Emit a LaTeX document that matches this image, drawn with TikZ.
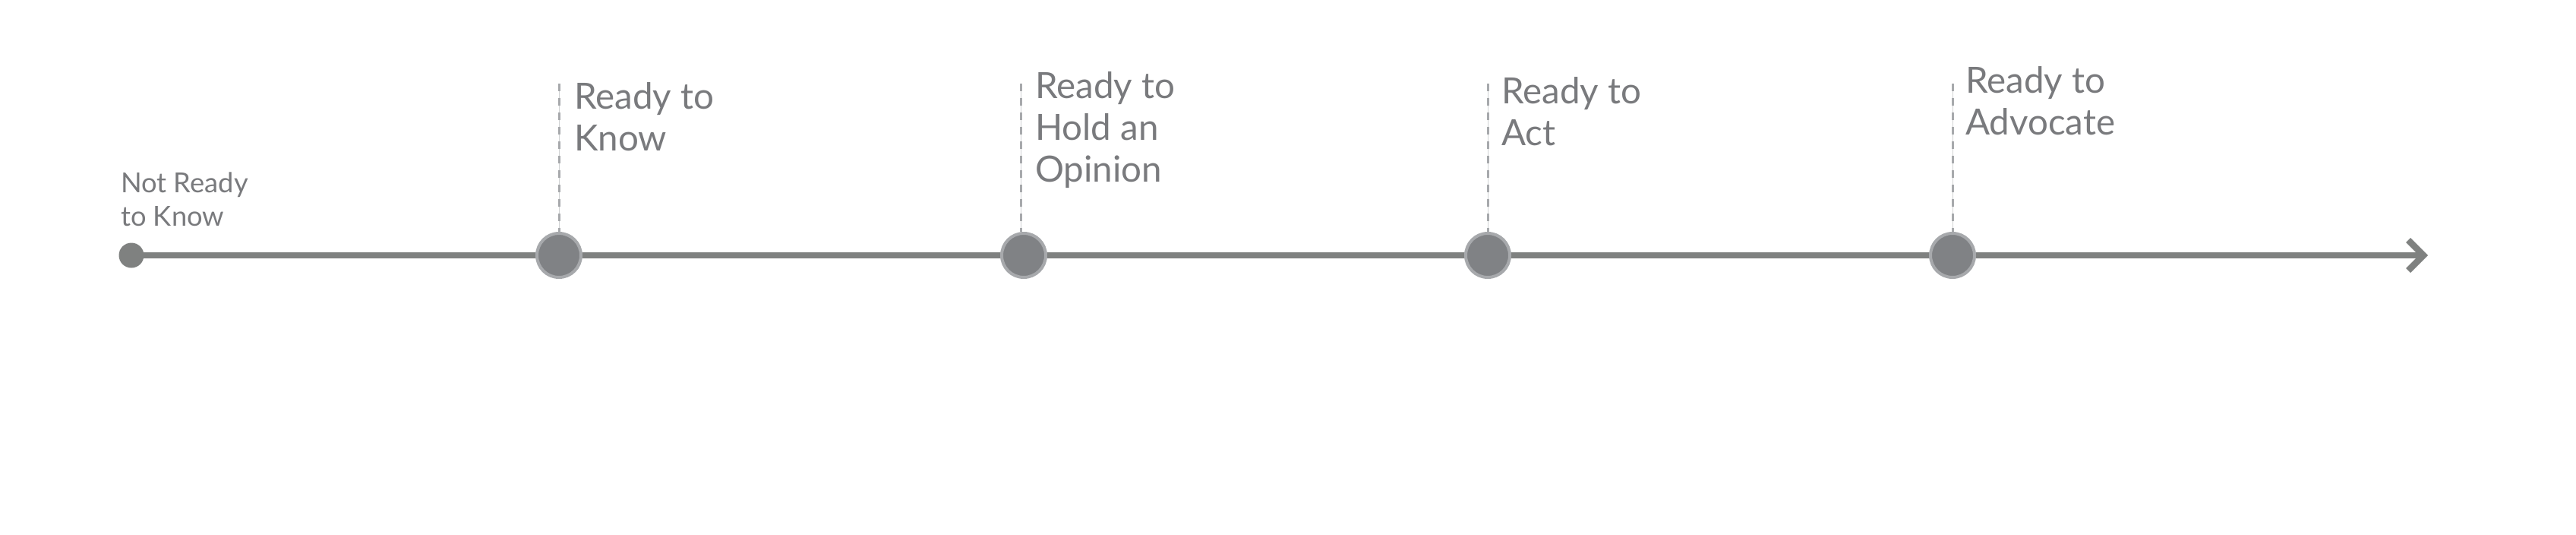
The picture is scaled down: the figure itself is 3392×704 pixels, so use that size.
\documentclass[tikz,border=0pt]{standalone}
\usepackage{fontspec}
\setmainfont{Lato}
\usetikzlibrary{calc}
\definecolor{txtgray}{RGB}{121,122,125}
\definecolor{linegray}{RGB}{127,129,128}
\definecolor{fillgray}{RGB}{128,130,133}
\definecolor{ringgray}{RGB}{167,169,172}
\definecolor{thingray}{RGB}{209,211,212}
\tikzset{
  mainline/.style={draw=linegray, line width=8.5pt},
  stage/.style={circle, draw=ringgray, fill=fillgray, line width=4pt, minimum size=58pt, inner sep=0pt},
  startdot/.style={circle, fill=linegray, minimum size=33pt, inner sep=0pt},
  guidethin/.style={draw=thingray, line width=1pt},
  guidedash/.style={draw=ringgray, line width=3pt, dash pattern=on 10pt off 9pt},
  biglabel/.style={anchor=base west, align=left, inner sep=0pt, text=txtgray, font=\fontsize{47.5}{55}\selectfont},
  smalllabel/.style={anchor=base west, align=left, inner sep=0pt, text=txtgray, font=\fontsize{36.3}{44}\selectfont}
}
\begin{document}
\begin{tikzpicture}[x=1pt,y=-1pt]
\useasboundingbox (0,0) rectangle (3392,704);
% start dot and end
\node[startdot] (n0) at (173,336) {};
\coordinate (tip) at (3191,336);
\draw[mainline] (n0.center) -- (tip);
\draw[mainline, line join=miter] ($(tip)+(-20,-20)$) -- (tip) -- ($(tip)+(-20,20)$);
% stage circles
\node[stage] (c1) at (736,336) {};
\node[stage] (c2) at (1348,336) {};
\node[stage] (c3) at (1959,336) {};
\node[stage] (c4) at (2571,336) {};
% guides
\coordinate (g1) at (736,110);
\coordinate (g2) at (1344,110);
\coordinate (g3) at (1959,110);
\coordinate (g4) at (2571,110);
\foreach \i in {1,2,3,4}{
  \draw[guidethin] (g\i) -- (g\i |- c\i.north);
  \draw[guidedash] (g\i) -- (g\i |- c\i.north);
}
% labels (base anchor = baseline of last line)
\node[smalllabel] (t0) at (159,297) {Not Ready\\to Know};
\node[biglabel] (t1) at (756,198) {Ready to\\Know};
\node[biglabel] (t2) at (1363,239) {Ready to\\Hold an\\Opinion};
\node[biglabel] (t3) at (1977,191) {Ready to\\Act};
\node[biglabel] (t4) at (2588,177) {Ready to\\Advocate};
\end{tikzpicture}
\end{document}
